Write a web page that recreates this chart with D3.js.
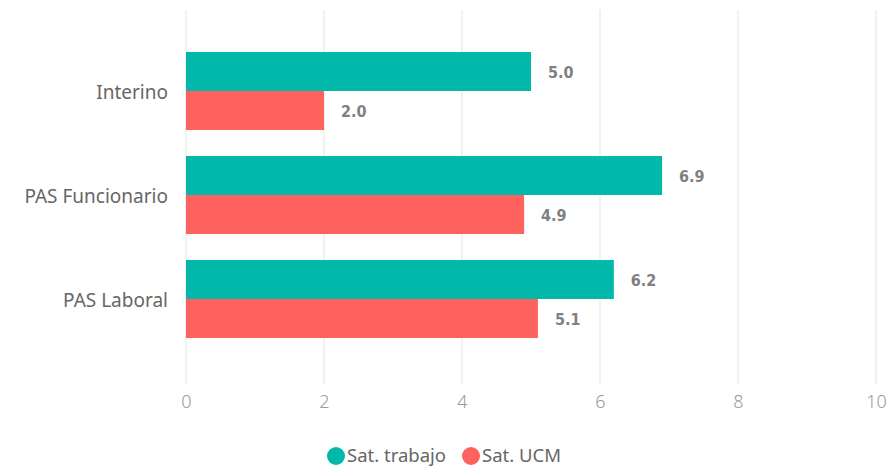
<!DOCTYPE html>
<html>
<head>
<meta charset="utf-8">
<script src="https://cdn.jsdelivr.net/npm/d3@7"></script>
<style>
  body { margin: 0; background: #fff; }
  svg text { font-family: "Noto Sans", "Open Sans", sans-serif; }
</style>
</head>
<body>
<svg id="chart" width="892" height="468"></svg>
<script>
const categories = ["Interino", "PAS Funcionario", "PAS Laboral"];
const seriesNames = ["Sat. trabajo", "Sat. UCM"];
const satTrabajo = [5.0, 6.9, 6.2];
const satUCM = [2.0, 4.9, 5.1];
const xTicks = [0, 2, 4, 6, 8, 10];
const colors = ["#01B8AA", "#FD625E"];

const data = categories.map((c, i) => ({ cat: c, vals: [satTrabajo[i], satUCM[i]] }));

const svg = d3.select("#chart");

// Scales
const x = d3.scaleLinear().domain([0, 10]).range([186, 876]);
const y = d3.scaleBand().domain(categories).range([0, 390]).paddingInner(0.25).paddingOuter(0.5);
const ySub = d3.scaleBand().domain(seriesNames).range([0, y.bandwidth()]);

// Gridlines
svg.append("g")
  .selectAll("line")
  .data(xTicks)
  .enter().append("line")
  .attr("x1", d => x(d)).attr("x2", d => x(d))
  .attr("y1", 10).attr("y2", 384)
  .attr("stroke", "#e8e8e8")
  .attr("stroke-width", 1.2);

// x-axis labels
const xAxis = svg.append("g")
  .attr("transform", "translate(0,384)")
  .call(d3.axisBottom(x).tickValues(xTicks).tickSize(0).tickPadding(11).tickFormat(d3.format("d")));
xAxis.select(".domain").remove();
xAxis.selectAll("text")
  .attr("fill", "#9a9a9a")
  .style("font-size", "18px")
  .style("font-weight", "300");

// y-axis labels
const yAxis = svg.append("g")
  .attr("transform", "translate(168,2)")
  .call(d3.axisLeft(y).tickSize(0).tickPadding(0));
yAxis.select(".domain").remove();
yAxis.selectAll("text")
  .attr("fill", "#666")
  .style("font-size", "19px");

// Bars
const groups = svg.selectAll(".grp")
  .data(data)
  .enter().append("g")
  .attr("class", "grp")
  .attr("transform", d => `translate(0,${y(d.cat)})`);

groups.selectAll("rect")
  .data(d => d.vals.map((v, k) => ({ k, v })))
  .enter().append("rect")
  .attr("x", x(0))
  .attr("y", d => ySub(seriesNames[d.k]))
  .attr("width", d => x(d.v) - x(0))
  .attr("height", ySub.bandwidth())
  .attr("fill", d => colors[d.k]);

groups.selectAll(".val")
  .data(d => d.vals.map((v, k) => ({ k, v })))
  .enter().append("text")
  .attr("class", "val")
  .attr("x", d => x(d.v) + 17)
  .attr("y", d => ySub(seriesNames[d.k]) + ySub.bandwidth() / 2 + 1)
  .attr("dy", "0.35em")
  .attr("fill", "#808080")
  .style("font-family", "'DejaVu Sans Condensed', 'Roboto', sans-serif")
  .style("font-size", "16px")
  .style("font-weight", "bold")
  .text(d => d3.format(".1f")(d.v));

// Legend
const legendX = [336, 471];
const legend = svg.selectAll(".leg")
  .data(seriesNames)
  .enter().append("g")
  .attr("class", "leg")
  .attr("transform", (d, i) => `translate(${legendX[i]},456)`);
legend.append("circle").attr("r", 9).attr("fill", (d, i) => colors[i]);
legend.append("text")
  .attr("x", 11)
  .attr("dy", "0.35em")
  .attr("fill", "#666")
  .style("font-size", "18.5px")
  .text(d => d);
</script>
</body>
</html>
